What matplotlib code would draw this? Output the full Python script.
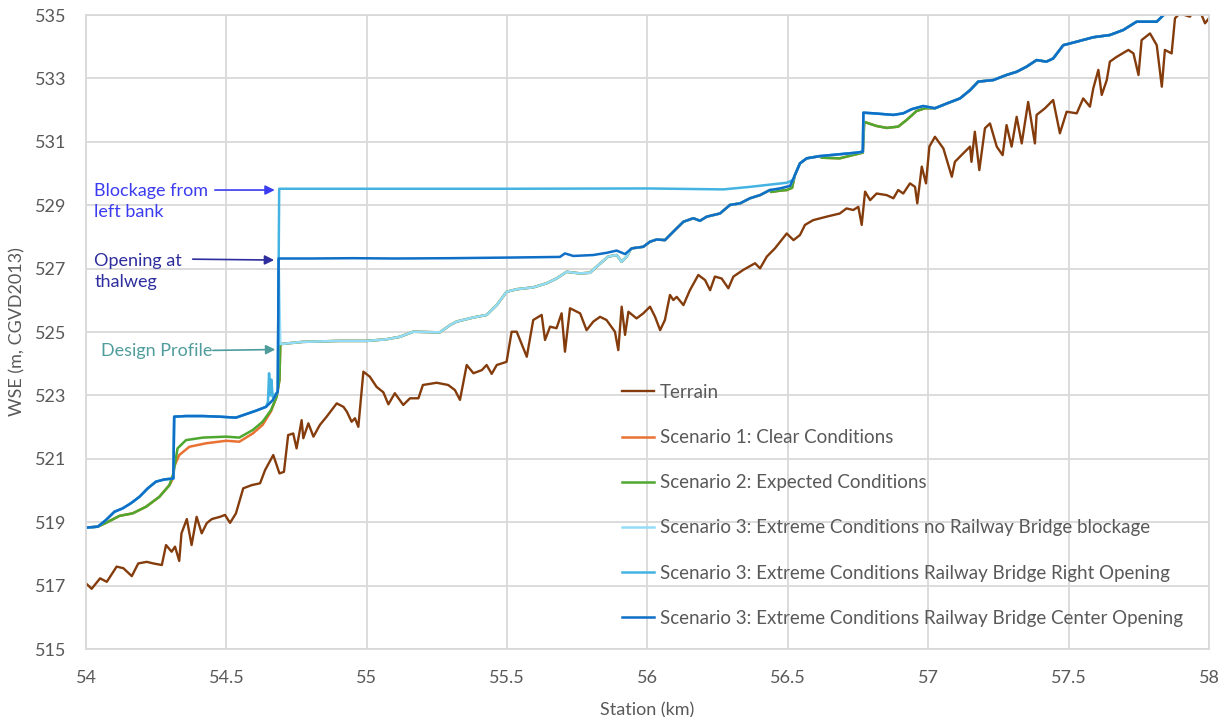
import numpy as np
import matplotlib.pyplot as plt
from matplotlib.ticker import FuncFormatter

# terrain profile along the channel
terrain_km = [54.000, 54.020, 54.050, 54.074, 54.109, 54.133, 54.163, 54.186, 54.216, 54.240,
              54.270, 54.285, 54.305, 54.317, 54.332, 54.340, 54.359, 54.376, 54.394, 54.412,
              54.430, 54.448, 54.477, 54.495, 54.513, 54.534, 54.560, 54.590, 54.620, 54.638,
              54.667, 54.689, 54.705, 54.720, 54.738, 54.750, 54.768, 54.774, 54.792, 54.810,
              54.833, 54.857, 54.893, 54.917, 54.929, 54.946, 54.958, 54.970, 54.988, 55.011,
              55.023, 55.035, 55.059,
              55.077, 55.100, 55.130, 55.154, 55.184, 55.200, 55.249, 55.290, 55.314, 55.332,
              55.356, 55.380, 55.410, 55.427, 55.445, 55.463, 55.498, 55.516, 55.534, 55.546,
              55.570, 55.593, 55.623, 55.635, 55.653, 55.676, 55.694, 55.706, 55.724, 55.760,
              55.783, 55.807, 55.831, 55.854, 55.884, 55.896, 55.908, 55.920, 55.932, 55.961,
              55.985, 56.009, 56.027, 56.045, 56.062, 56.080, 56.092, 56.104, 56.128, 56.151,
              56.181, 56.205, 56.223, 56.240, 56.264, 56.288, 56.306, 56.341, 56.383, 56.401,
              56.425, 56.454, 56.496, 56.520, 56.543, 56.561, 56.590, 56.638, 56.685, 56.709,
              56.733, 56.751, 56.763, 56.775, 56.793, 56.816, 56.852, 56.876, 56.893, 56.911,
              56.935, 56.953, 56.961, 56.977, 56.992, 57.004, 57.024, 57.054, 57.084, 57.095,
              57.125, 57.149, 57.154, 57.166, 57.182, 57.202, 57.220, 57.244, 57.265, 57.279,
              57.297, 57.315, 57.333, 57.356, 57.380, 57.386, 57.416, 57.445, 57.469, 57.493,
              57.529, 57.552, 57.576, 57.588, 57.606, 57.618, 57.636, 57.647, 57.671, 57.713,
              57.731, 57.749, 57.760, 57.790, 57.814, 57.832, 57.843, 57.867, 57.879, 57.896,
              57.932, 57.944, 57.974, 57.986, 58.000]
terrain_wse = [517.07, 516.90, 517.23, 517.12, 517.60, 517.55, 517.30, 517.70, 517.75, 517.70,
               517.65, 518.28, 518.07, 518.23, 517.78, 518.65, 519.10, 518.28, 519.17, 518.65,
               518.97, 519.10, 519.17, 519.23, 518.98, 519.28, 520.07, 520.17, 520.23, 520.65,
               521.12, 520.54, 520.59, 521.75, 521.80, 521.33, 522.22, 521.65, 522.12, 521.70,
               522.07, 522.33, 522.75, 522.64, 522.49, 522.17, 522.28, 522.01, 523.75, 523.59,
               523.43, 523.27, 523.10,
               522.72, 523.07, 522.70, 522.91, 522.91, 523.33, 523.40, 523.33, 523.17, 522.86,
               523.96, 523.70, 523.80, 523.96, 523.68, 523.96, 524.06, 525.01, 525.01, 524.75,
               524.22, 525.38, 525.54, 524.75, 525.17, 525.12, 525.59, 524.38, 525.75, 525.59,
               525.06, 525.33, 525.48, 525.38, 525.01, 524.43, 525.80, 524.91, 525.64, 525.43,
               525.59, 525.80, 525.48, 525.06, 525.38, 526.17, 526.01, 526.11, 525.85, 526.32,
               526.80, 526.64, 526.32, 526.75, 526.69, 526.38, 526.75, 526.96, 527.17, 527.01,
               527.38, 527.64, 528.11, 527.90, 528.06, 528.38, 528.53, 528.64, 528.74, 528.90,
               528.85, 528.95, 528.38, 529.43, 529.16, 529.37, 529.32, 529.22, 529.48, 529.37,
               529.69, 529.58, 529.06, 530.22, 529.69, 530.85, 531.16, 530.79, 529.90, 530.37,
               530.64, 530.85, 530.37, 531.32, 530.11, 531.43, 531.58, 530.85, 530.58, 531.53,
               530.85, 531.79, 530.95, 532.26, 530.95, 531.85, 532.06, 532.32, 531.27, 531.95,
               531.90, 532.37, 532.11, 532.69, 533.27, 532.48, 532.95, 533.53, 533.68, 533.90,
               533.79, 533.11, 534.21, 534.42, 534.05, 532.74, 533.90, 533.79, 534.90, 535.05,
               534.95, 535.10, 535.00, 534.74, 534.90]

# scenario 3, centre opening (the line on top)
center_km = [54.000, 54.042, 54.071, 54.101, 54.131, 54.160, 54.190, 54.220, 54.249, 54.279,
             54.311, 54.314, 54.356, 54.416, 54.475, 54.534, 54.570, 54.606, 54.641, 54.665,
             54.683, 54.686, 54.800, 54.950, 55.100, 55.300, 55.510, 55.688, 55.706, 55.736,
             55.807, 55.855, 55.890, 55.920, 55.944, 55.985, 56.009, 56.033, 56.062, 56.098,
             56.128, 56.163, 56.187, 56.211, 56.258, 56.294, 56.330, 56.365, 56.401, 56.436,
             56.472, 56.508, 56.525, 56.543, 56.567, 56.614, 56.685, 56.745, 56.767, 56.769,
             56.805, 56.876, 56.911, 56.941, 56.982, 57.024, 57.066, 57.113, 57.149, 57.178,
             57.232, 57.279, 57.315, 57.350, 57.386, 57.421, 57.445, 57.481, 57.529, 57.588,
             57.647, 57.695, 57.742, 57.814, 57.838, 57.880]
center_wse = [518.83, 518.86, 519.07, 519.33, 519.44, 519.60, 519.80, 520.07, 520.28, 520.35,
              520.38, 522.33, 522.35, 522.35, 522.33, 522.30, 522.41, 522.52, 522.64, 522.85,
              523.12, 527.32, 527.32, 527.33, 527.32, 527.33, 527.35, 527.37, 527.48, 527.40,
              527.43, 527.50, 527.57, 527.46, 527.64, 527.69, 527.85, 527.92, 527.90, 528.22,
              528.48, 528.59, 528.51, 528.64, 528.74, 529.01, 529.06, 529.22, 529.32, 529.48,
              529.53, 529.61, 529.95, 530.32, 530.48, 530.55, 530.61, 530.66, 530.69, 531.92,
              531.90, 531.85, 531.90, 532.03, 532.13, 532.06, 532.21, 532.37, 532.63, 532.90,
              532.95, 533.11, 533.21, 533.37, 533.58, 533.53, 533.63, 534.05, 534.16, 534.30,
              534.37, 534.53, 534.79, 534.79, 535.00, 535.30]

# scenario 3, right opening: part that leaves the centre line
right_km = [54.648, 54.652, 54.656, 54.660, 54.665, 54.683, 54.688, 55.000, 55.500, 56.000,
            56.270, 56.365, 56.496, 56.520]
right_wse = [522.80, 523.70, 523.00, 523.50, 522.95, 523.12, 529.52, 529.52, 529.52, 529.53,
             529.50, 529.58, 529.71, 529.80]

# design profile (no railway bridge blockage), shared by scenarios 1-3
design_km = [54.692, 54.772, 54.900, 55.000, 55.069, 55.118, 55.166, 55.260, 55.297, 55.320,
             55.380, 55.427, 55.463, 55.498, 55.534, 55.593, 55.641, 55.676, 55.712, 55.760,
             55.795, 55.825, 55.860, 55.890, 55.908, 55.926, 55.940]
design_wse = [524.62, 524.69, 524.72, 524.72, 524.77, 524.85, 525.01, 524.99, 525.22, 525.33,
              525.46, 525.54, 525.85, 526.27, 526.35, 526.41, 526.54, 526.69, 526.90, 526.85,
              526.87, 527.11, 527.38, 527.43, 527.22, 527.38, 527.61]

# scenario 2 pieces that differ from the others
s2_low_km = [54.000, 54.042, 54.071, 54.119, 54.166, 54.214, 54.261, 54.297, 54.311, 54.326,
             54.356, 54.416, 54.499, 54.546, 54.594, 54.629, 54.659, 54.679, 54.689]
s2_low_wse = [518.83, 518.86, 518.98, 519.20, 519.28, 519.49, 519.80, 520.17, 520.54, 521.33,
              521.59, 521.67, 521.70, 521.67, 521.91, 522.17, 522.54, 522.96, 523.49]
s2_a_km = [56.440, 56.472, 56.496, 56.515]
s2_a_wse = [529.42, 529.46, 529.48, 529.55]
s2_b_km = [56.620, 56.685, 56.730, 56.767, 56.772, 56.816, 56.852, 56.893, 56.923, 56.958, 56.988]
s2_b_wse = [530.50, 530.48, 530.58, 530.66, 531.63, 531.50, 531.44, 531.48, 531.69, 531.97, 532.06]

# scenario 1 piece below scenario 2
s1_low_km = [54.311, 54.314, 54.332, 54.368, 54.427, 54.499, 54.546, 54.594, 54.629, 54.659]
s1_low_wse = [520.40, 520.76, 521.12, 521.38, 521.49, 521.57, 521.54, 521.80, 522.07, 522.50]


def splice(base_km, base_wse, seg_km, seg_wse):
    base_km = np.asarray(base_km)
    base_wse = np.asarray(base_wse)
    lo = base_km < seg_km[0]
    hi = base_km > seg_km[-1]
    km = np.concatenate([base_km[lo], seg_km, base_km[hi]])
    wse = np.concatenate([base_wse[lo], seg_wse, base_wse[hi]])
    return km, wse


nb_km, nb_wse = splice(center_km, center_wse, design_km, design_wse)
rt_km, rt_wse = splice(center_km, center_wse, right_km, right_wse)
s2_km, s2_wse = splice(nb_km, nb_wse, s2_low_km, s2_low_wse)
s2_km, s2_wse = splice(s2_km, s2_wse, s2_a_km, s2_a_wse)
s2_km, s2_wse = splice(s2_km, s2_wse, s2_b_km, s2_b_wse)
s1_km, s1_wse = splice(s2_km, s2_wse, s1_low_km, s1_low_wse)

plt.rcParams['font.family'] = ['Lato', 'DejaVu Sans']
grey = '#595959'

fig, ax = plt.subplots(figsize=(12.29, 7.17), dpi=100)
plt.subplots_adjust(left=0.070, right=0.9837, top=0.979, bottom=0.0948)

ax.plot(terrain_km, terrain_wse, color='#843C0C', lw=1.7, label='Terrain')
ax.plot(s1_km, s1_wse, color='#E97132', lw=1.8, label='Scenario 1: Clear Conditions')
ax.plot(s2_km, s2_wse, color='#4EA72E', lw=1.8, label='Scenario 2: Expected Conditions')
ax.plot(nb_km, nb_wse, color='#94DCF8', lw=1.8,
        label='Scenario 3: Extreme Conditions no Railway Bridge blockage')
ax.plot(rt_km, rt_wse, color='#44B3E1', lw=1.8,
        label='Scenario 3: Extreme Conditions Railway Bridge Right Opening')
ax.plot(center_km, center_wse, color='#0F6FC6', lw=1.8,
        label='Scenario 3: Extreme Conditions Railway Bridge Center Opening')

ax.set_xlim(54, 58)
ax.set_ylim(515, 535)
ax.set_xticks(np.arange(54, 58.01, 0.5))
ax.set_yticks(np.arange(515, 535.1, 2))
ax.xaxis.set_major_formatter(FuncFormatter(lambda v, p: f'{v:g}'))
ax.grid(True, color='#D9D9D9', lw=1.3)
ax.set_axisbelow(True)
for s in ax.spines.values():
    s.set_color('#D9D9D9')
    s.set_linewidth(1.3)
ax.tick_params(length=0, labelsize=13, colors=grey)
ax.tick_params(axis='y', pad=14)
ax.tick_params(axis='x', pad=15)
ax.set_xlabel('Station (km)', fontsize=13, color=grey, labelpad=12)
ax.set_ylabel('WSE (m, CGVD2013)', fontsize=13, color=grey, labelpad=7)

leg = ax.legend(loc='upper left', bbox_to_anchor=(0.477, 0.418), frameon=False,
                fontsize=13.5, labelspacing=1.5, handlelength=1.75, handletextpad=0.3,
                borderpad=0, borderaxespad=0)
for t in leg.get_texts():
    t.set_color(grey)

# annotations
c1, c2, c3 = '#3B3BF0', '#2E2E9E', '#4F9C9C'
ax.text(54.029, 529.70, 'Blockage from\nleft bank', color=c1, fontsize=13, va='top',
        linespacing=1.4)
ax.annotate('', xy=(54.682, 529.48), xytext=(54.449, 529.48),
            arrowprops=dict(arrowstyle='-|>', color=c1, lw=1.2, mutation_scale=14))
ax.text(54.029, 527.50, 'Opening at\nthalweg', color=c2, fontsize=13, va='top',
        linespacing=1.4)
ax.annotate('', xy=(54.680, 527.27), xytext=(54.370, 527.30),
            arrowprops=dict(arrowstyle='-|>', color=c2, lw=1.2, mutation_scale=14))
ax.text(54.054, 524.41, 'Design Profile', color=c3, fontsize=13, va='center')
ax.annotate('', xy=(54.684, 524.45), xytext=(54.442, 524.42),
            arrowprops=dict(arrowstyle='-|>', color=c3, lw=1.2, mutation_scale=14))

plt.savefig('out.png', dpi=100)
